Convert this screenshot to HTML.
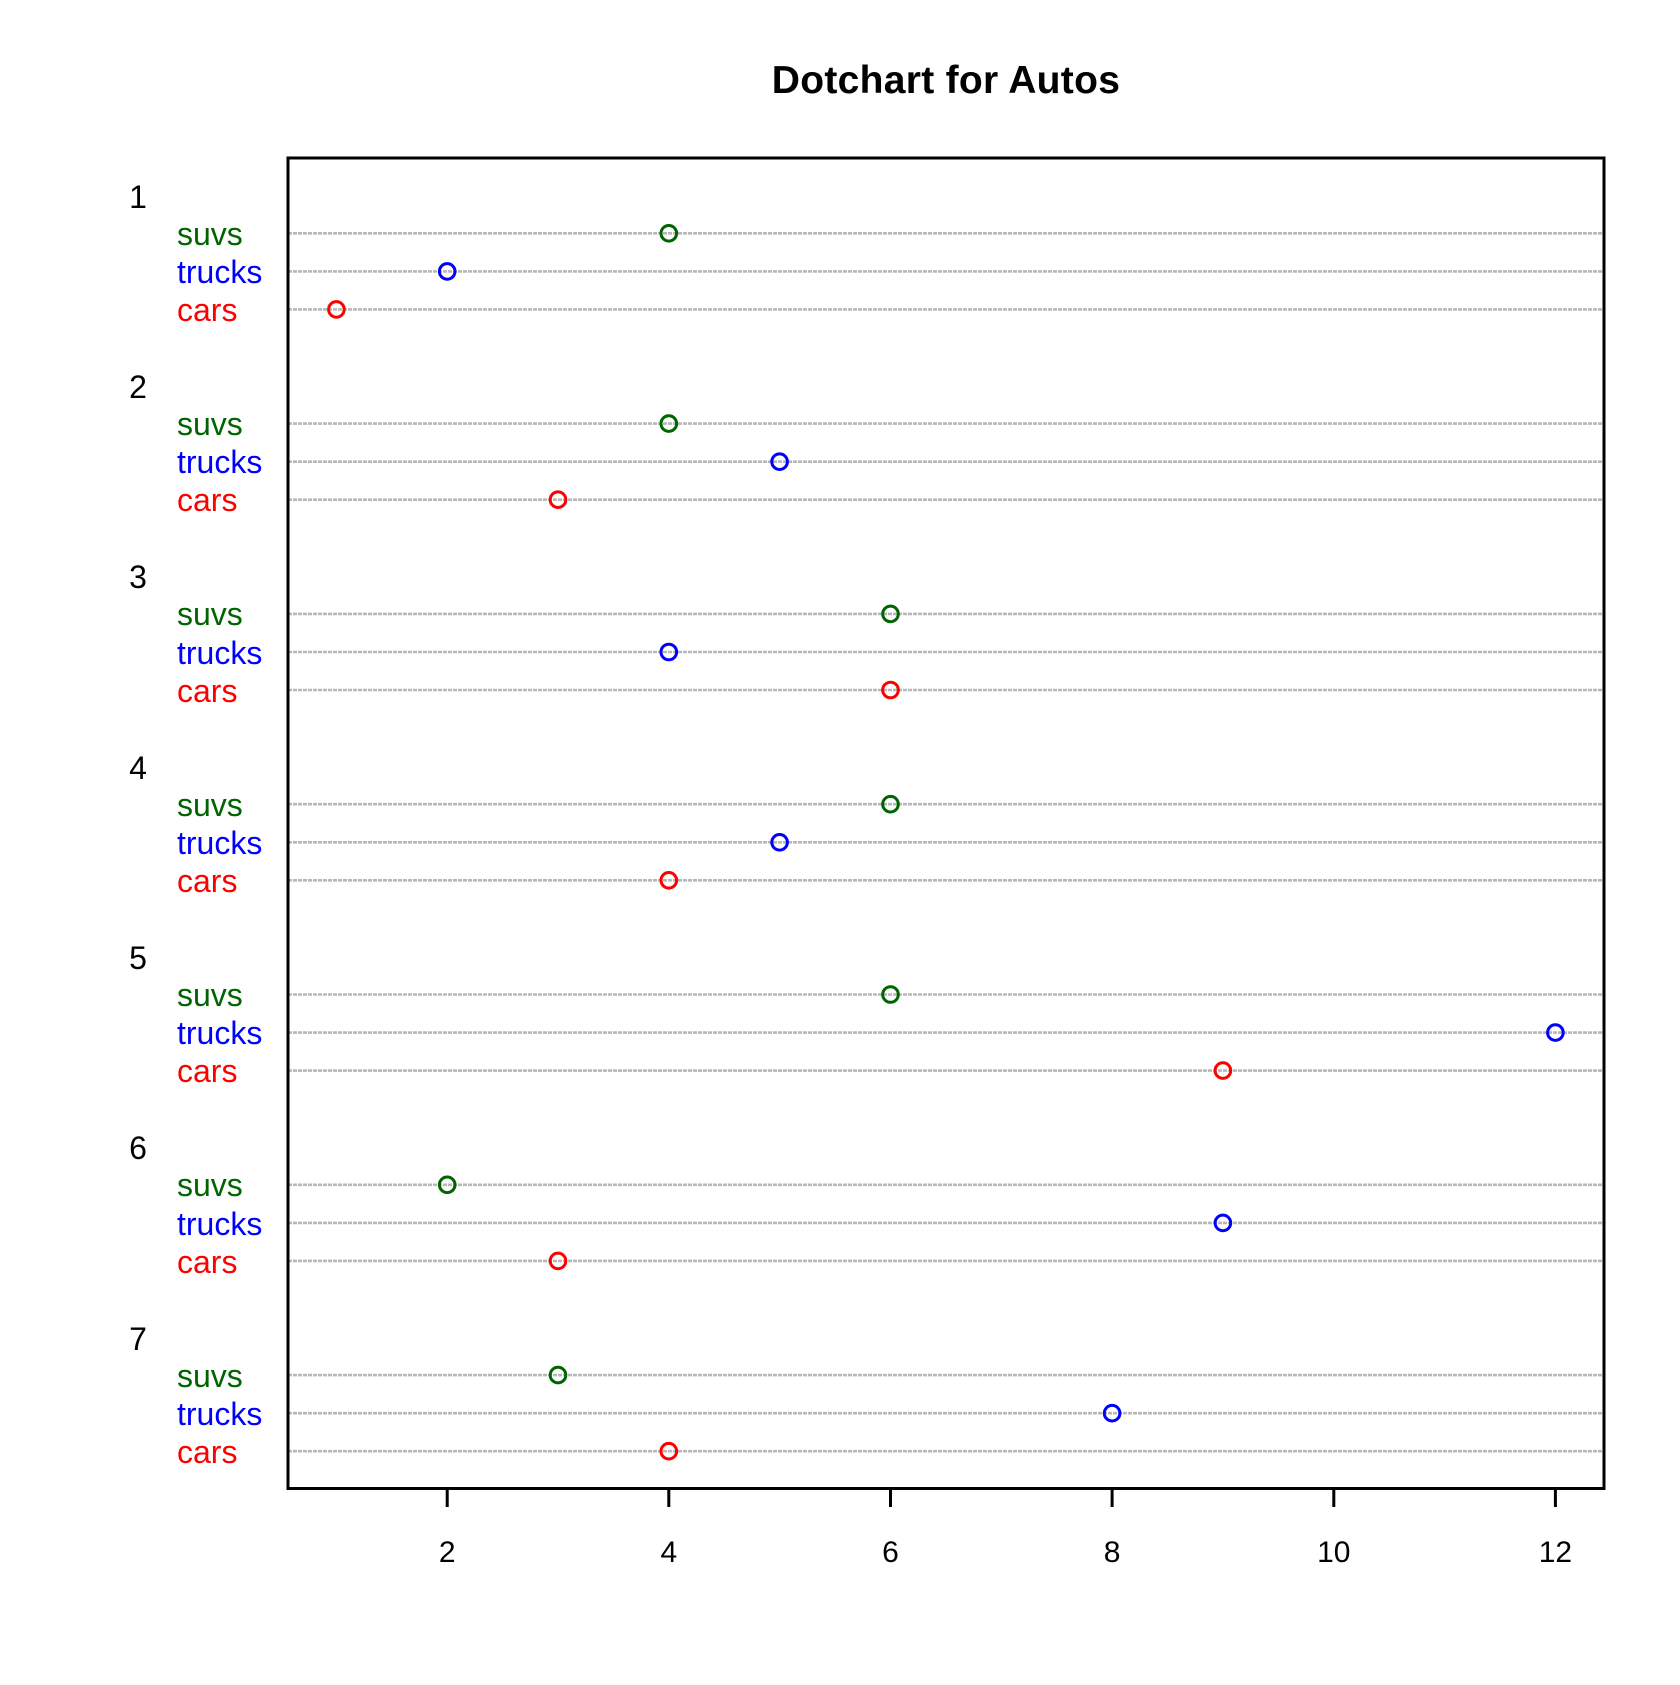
<!DOCTYPE html>
<html><head><style>html,body{margin:0;padding:0;background:#fff}</style></head><body>
<svg width="1680" height="1680" viewBox="0 0 1680 1680" xmlns="http://www.w3.org/2000/svg" font-family="Liberation Sans, Arial, sans-serif">
<rect width="1680" height="1680" fill="#fff"/>
<text x="946" y="93" font-size="39" font-weight="bold" text-anchor="middle" letter-spacing="0.3">Dotchart for Autos</text>
<g stroke="#b8b8b8" stroke-width="2.6" stroke-dasharray="4,1">
<line x1="288" x2="1604" y1="233.3" y2="233.3"/><line x1="288" x2="1604" y1="271.4" y2="271.4"/><line x1="288" x2="1604" y1="309.4" y2="309.4"/>
<line x1="288" x2="1604" y1="423.6" y2="423.6"/><line x1="288" x2="1604" y1="461.7" y2="461.7"/><line x1="288" x2="1604" y1="499.7" y2="499.7"/>
<line x1="288" x2="1604" y1="613.9" y2="613.9"/><line x1="288" x2="1604" y1="652" y2="652"/><line x1="288" x2="1604" y1="690" y2="690"/>
<line x1="288" x2="1604" y1="804.2" y2="804.2"/><line x1="288" x2="1604" y1="842.3" y2="842.3"/><line x1="288" x2="1604" y1="880.3" y2="880.3"/>
<line x1="288" x2="1604" y1="994.5" y2="994.5"/><line x1="288" x2="1604" y1="1032.6" y2="1032.6"/><line x1="288" x2="1604" y1="1070.6" y2="1070.6"/>
<line x1="288" x2="1604" y1="1184.8" y2="1184.8"/><line x1="288" x2="1604" y1="1222.9" y2="1222.9"/><line x1="288" x2="1604" y1="1260.9" y2="1260.9"/>
<line x1="288" x2="1604" y1="1375.1" y2="1375.1"/><line x1="288" x2="1604" y1="1413.2" y2="1413.2"/><line x1="288" x2="1604" y1="1451.2" y2="1451.2"/>
</g>
<rect x="288" y="158" width="1316" height="1330.5" fill="none" stroke="#000" stroke-width="3"/>
<g fill="none" stroke-width="3">
<circle cx="668.8" cy="233.3" r="7.8" stroke="#006400"/><circle cx="447.2" cy="271.4" r="7.8" stroke="#0000ff"/><circle cx="336.4" cy="309.4" r="7.8" stroke="#ff0000"/>
<circle cx="668.8" cy="423.6" r="7.8" stroke="#006400"/><circle cx="779.6" cy="461.7" r="7.8" stroke="#0000ff"/><circle cx="558" cy="499.7" r="7.8" stroke="#ff0000"/>
<circle cx="890.5" cy="613.9" r="7.8" stroke="#006400"/><circle cx="668.8" cy="652" r="7.8" stroke="#0000ff"/><circle cx="890.5" cy="690" r="7.8" stroke="#ff0000"/>
<circle cx="890.5" cy="804.2" r="7.8" stroke="#006400"/><circle cx="779.6" cy="842.3" r="7.8" stroke="#0000ff"/><circle cx="668.8" cy="880.3" r="7.8" stroke="#ff0000"/>
<circle cx="890.5" cy="994.5" r="7.8" stroke="#006400"/><circle cx="1555.4" cy="1032.6" r="7.8" stroke="#0000ff"/><circle cx="1222.9" cy="1070.6" r="7.8" stroke="#ff0000"/>
<circle cx="447.2" cy="1184.8" r="7.8" stroke="#006400"/><circle cx="1222.9" cy="1222.9" r="7.8" stroke="#0000ff"/><circle cx="558" cy="1260.9" r="7.8" stroke="#ff0000"/>
<circle cx="558" cy="1375.1" r="7.8" stroke="#006400"/><circle cx="1112.1" cy="1413.2" r="7.8" stroke="#0000ff"/><circle cx="668.8" cy="1451.2" r="7.8" stroke="#ff0000"/>
</g>
<g font-size="32">
<g text-anchor="middle">
<text x="138" y="208">1</text><text x="138" y="398">2</text><text x="138" y="588">3</text><text x="138" y="779">4</text><text x="138" y="969">5</text><text x="138" y="1159">6</text><text x="138" y="1350">7</text>
</g>
<g fill="#006400">
<text x="177" y="245">suvs</text><text x="177" y="435">suvs</text><text x="177" y="625">suvs</text><text x="177" y="816">suvs</text><text x="177" y="1006">suvs</text><text x="177" y="1196">suvs</text><text x="177" y="1387">suvs</text>
</g>
<g fill="#0000ff">
<text x="177" y="283">trucks</text><text x="177" y="473">trucks</text><text x="177" y="664">trucks</text><text x="177" y="854">trucks</text><text x="177" y="1044">trucks</text><text x="177" y="1235">trucks</text><text x="177" y="1425">trucks</text>
</g>
<g fill="#ff0000">
<text x="177" y="321">cars</text><text x="177" y="511">cars</text><text x="177" y="702">cars</text><text x="177" y="892">cars</text><text x="177" y="1082">cars</text><text x="177" y="1273">cars</text><text x="177" y="1463">cars</text>
</g>
</g>
<g stroke="#000" stroke-width="3">
<line x1="447.2" x2="447.2" y1="1488" y2="1507"/><line x1="668.8" x2="668.8" y1="1488" y2="1507"/><line x1="890.5" x2="890.5" y1="1488" y2="1507"/><line x1="1112.1" x2="1112.1" y1="1488" y2="1507"/><line x1="1333.8" x2="1333.8" y1="1488" y2="1507"/><line x1="1555.4" x2="1555.4" y1="1488" y2="1507"/>
</g>
<g font-size="30" text-anchor="middle">
<text x="447.2" y="1562">2</text><text x="668.8" y="1562">4</text><text x="890.5" y="1562">6</text><text x="1112.1" y="1562">8</text><text x="1333.8" y="1562">10</text><text x="1555.4" y="1562">12</text>
</g>
</svg>
</body></html>
